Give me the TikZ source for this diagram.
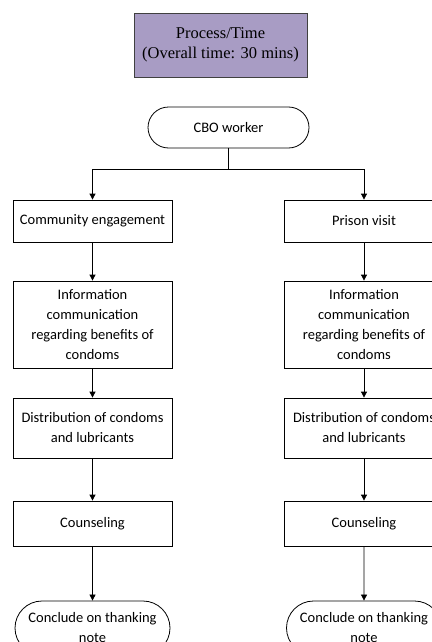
\documentclass[tikz,border=0pt]{standalone}
\usepackage{fontspec}
\setmainfont{Carlito}
\newfontfamily\titlefont{Liberation Serif}
\usetikzlibrary{arrows.meta,shapes.misc}

\definecolor{titlefill}{RGB}{168,156,196}
\definecolor{titleline}{RGB}{64,64,64}

\tikzset{
  stepbox/.style={draw, line width=0.8pt, minimum width=159pt, align=center,
    font=\fontsize{14.5}{20}\selectfont, inner sep=2pt},
  endbox/.style={stepbox, rounded rectangle, minimum height=41pt},
  titlebox/.style={draw=titleline, fill=titlefill, line width=0.8pt, minimum width=173pt,
    minimum height=64pt, align=center, font=\titlefont\fontsize{16.5}{20}\selectfont},
  arr/.style={line width=0.8pt, -{Triangle[width=6pt,length=6pt]}},
  ln/.style={line width=0.8pt}
}

\begin{document}
\begin{tikzpicture}[x=1pt, y=-1pt]
  % Page frame (picture is cut at right and bottom)
  \useasboundingbox (0,0) rectangle (431,642);

  % Title
  \node[titlebox] (title) at (220.5,45) {Process/Time\\(Overall time: 30 mins)};

  % Start
  \node[endbox, minimum width=165pt] (cbo) at (228.5,127.5) {CBO worker};
  \coordinate (hub) at (228.5,169); % split point

  % Left column
  \node[stepbox, minimum height=42pt] (ce) at (92.5,221) {Community engagement};
  \node[stepbox, minimum height=87pt] (infoL) at (92.5,324.5) {Information\\communication\\regarding benefits of\\condoms};
  \node[stepbox, minimum height=60pt] (distL) at (92.5,428) {Distribution of condoms\\and lubricants};
  \node[stepbox, minimum height=45pt] (counsL) at (92.5,523.5) {Counseling};
  \node[endbox, minimum height=54pt] (endL) at (92.5,628) {Conclude on thanking\\note};

  % Right column
  \node[stepbox, minimum height=42pt] (pv) at (364,221) {Prison visit};
  \node[stepbox, minimum height=87pt] (infoR) at (364,324.5) {Information\\communication\\regarding benefits of\\condoms};
  \node[stepbox, minimum height=60pt] (distR) at (364,428) {Distribution of condoms\\and lubricants};
  \node[stepbox, minimum height=45pt] (counsR) at (364,523.5) {Counseling};
  \node[endbox, minimum height=54pt] (endR) at (364,628) {Conclude on thanking\\note};

  % Connectors
  \draw[ln] (cbo.south) -- (hub);
  \draw[arr] (hub) -| (ce.north);
  \draw[arr] (hub) -| (pv.north);
  \draw[arr] (ce) -- (infoL);
  \draw[arr] (infoL) -- (distL);
  \draw[arr] (distL) -- (counsL);
  \draw[arr] (counsL) -- (endL);
  \draw[arr] (pv) -- (infoR);
  \draw[arr] (infoR) -- (distR);
  \draw[arr] (distR) -- (counsR);
  \draw[arr] (counsR) -- (endR);
\end{tikzpicture}
\end{document}
